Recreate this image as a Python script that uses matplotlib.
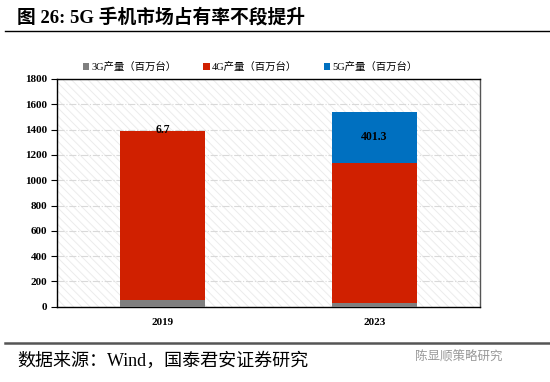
import matplotlib
matplotlib.use('Agg')
import matplotlib.pyplot as plt
from matplotlib.patches import Rectangle
import numpy as np

plt.rcParams['font.family'] = ['Liberation Serif', 'Noto Sans CJK SC', 'DejaVu Sans']
plt.rcParams['hatch.color'] = '#ececec'
plt.rcParams['hatch.linewidth'] = 0.7

years = ['2019', '2023']
g3 = [53, 30]
g4 = [1333, 1107]
g5 = [6.7, 401.3]
series_names = ['3G产量（百万台）', '4G产量（百万台）', '5G产量（百万台）']
colors = ['#7f7f7f', '#d02000', '#0070c0']

fig = plt.figure(figsize=(5.5, 3.82), dpi=100)
ax = fig.add_axes([57/550, 1-306.7/382, 423/550, 227.7/382])

# hatched background
ax.add_patch(Rectangle((0, 0), 1, 1, transform=ax.transAxes, facecolor='white',
                       edgecolor='#ececec', hatch='\\\\\\\\', lw=0, zorder=0))

x = np.arange(len(years))
b3 = ax.bar(x, g3, 0.4, color=colors[0], label=series_names[0], zorder=3)
b4 = ax.bar(x, g4, 0.4, bottom=g3, color=colors[1], label=series_names[1], zorder=3)
bot5 = [a + b for a, b in zip(g3, g4)]
b5 = ax.bar(x, g5, 0.4, bottom=bot5, color=colors[2], label=series_names[2], zorder=3)

for i in range(len(years)):
    ypos = bot5[i] + g5[i] / 2
    if g5[i] < 50:
        ypos = bot5[i] + g5[i] + 5
    ax.text(x[i], ypos, '%.1f' % g5[i], ha='center', va='center',
            fontsize=8.5, fontweight='bold', zorder=4)

ax.set_xlim(-0.5, 1.5)
ax.set_ylim(0, 1800)
ax.set_yticks(range(0, 1801, 200))
ax.set_xticks(x)
ax.set_xticklabels(years)
ax.yaxis.grid(True, color='#d9d9d9', linestyle='-.', linewidth=0.8, zorder=1)
ax.set_axisbelow(True)
for lab in ax.get_yticklabels() + ax.get_xticklabels():
    lab.set_fontweight('bold')
    lab.set_fontsize(8)
ax.tick_params(axis='y', length=4, width=0.8, pad=3)
ax.tick_params(axis='x', length=0, pad=8)
for s in ['left', 'bottom', 'top']:
    ax.spines[s].set_color('black')
    ax.spines[s].set_linewidth(1.0)
ax.spines['right'].set_color('#555555')
ax.spines['right'].set_linewidth(1.0)

fig.legend(handles=[b3, b4, b5], loc='center', bbox_to_anchor=(0.455, 1-67/382),
           ncol=3, frameon=False, fontsize=7.5, handlelength=0.6, handleheight=0.6,
           handletextpad=0.2, columnspacing=2.6)

fig.text(17/550, 1-17/382, '图 26: 5G 手机市场占有率不段提升', fontsize=13.5,
         fontweight='bold', ha='left', va='center')
fig.add_artist(plt.Line2D([5/550, 1], [1-31/382, 1-31/382], color='black', lw=1.0))
fig.add_artist(plt.Line2D([5/550, 1], [1-343/382, 1-343/382], color='#555555', lw=1.8))
fig.text(17/550, 1-361/382, '数据来源：Wind，国泰君安证券研究', fontsize=13,
         ha='left', va='center')
fig.text(415/550, 1-357/382, '陈显顺策略研究', fontsize=9, color='#999999',
         ha='left', va='center', family=['Noto Sans CJK SC'])

fig.savefig('out.png', dpi=100)
